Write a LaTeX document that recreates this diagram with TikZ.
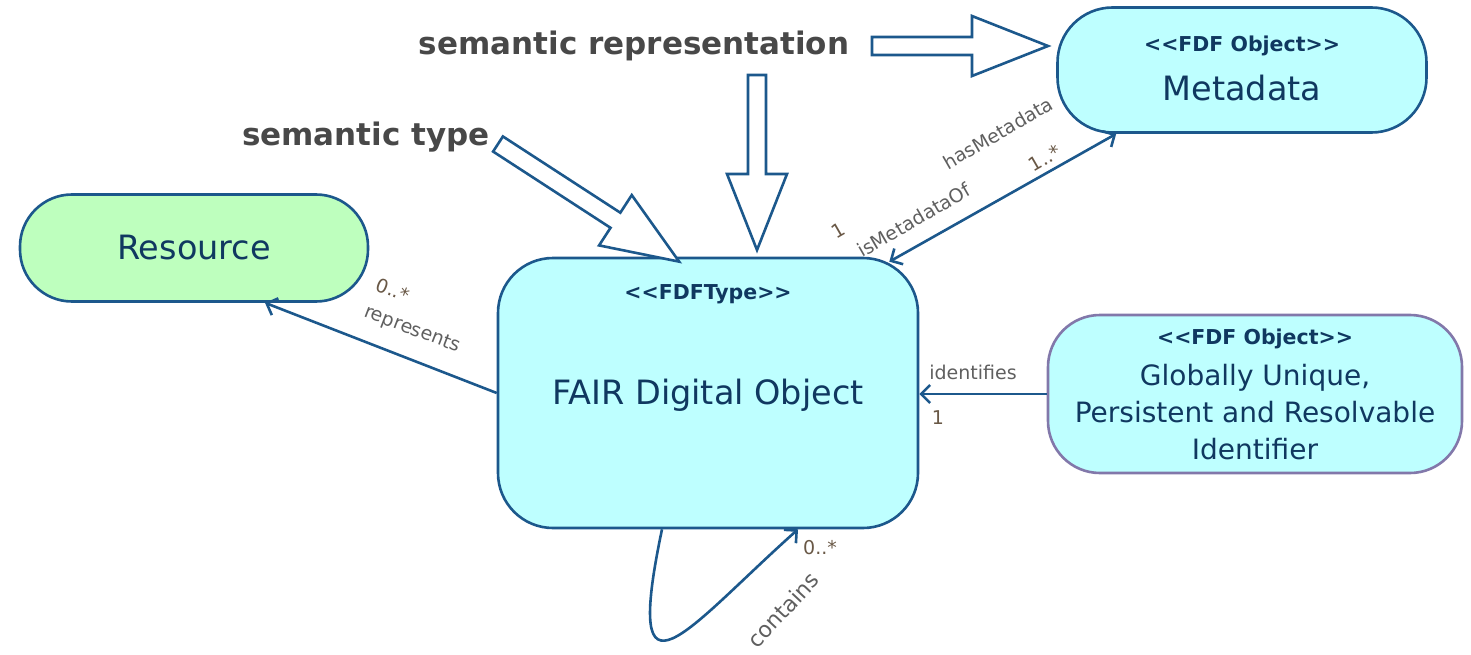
\documentclass[tikz,border=0pt]{standalone}
\usepackage{fontspec}
\setmainfont{DejaVu Sans}
\usetikzlibrary{arrows.meta}

\definecolor{umlblue}{RGB}{28,88,140}
\definecolor{umltext}{RGB}{16,56,96}
\definecolor{fdocyan}{RGB}{190,255,255}
\definecolor{resgreen}{RGB}{190,255,190}
\definecolor{pidframe}{RGB}{130,120,170}
\definecolor{lblgray}{RGB}{95,95,95}
\definecolor{multbrown}{RGB}{105,88,70}
\definecolor{captgray}{RGB}{72,72,72}

\tikzset{
  classbox/.style={draw=umlblue, line width=2.6pt, fill=fdocyan, text=umltext, inner sep=0pt},
  classname/.style={font=\fontsize{33.5}{40}\selectfont, text=umltext, align=center},
  stereo/.style={font=\bfseries\fontsize{20.5}{25}\selectfont, text=umltext},
  assoc/.style={draw=umlblue, line width=2.6pt, -{Straight Barb[length=9pt,width=18pt]}},
  assocboth/.style={assoc, {Straight Barb[length=9pt,width=18pt]}-{Straight Barb[length=9pt,width=18pt]}},
  lbl/.style={font=\fontsize{19}{22}\selectfont, text=lblgray, inner sep=0pt},
  mult/.style={lbl, text=multbrown},
  caption/.style={font=\bfseries\fontsize{31}{38}\selectfont, text=captgray},
  bigarrow/.pic={\draw[draw=umlblue, line width=2.6pt, fill=white, line join=miter]
    (0,-9) -- (#1-76,-9) -- (#1-76,-30) -- (#1,0) -- (#1-76,30) -- (#1-76,9) -- (0,9) -- cycle;}
}

\begin{document}
\begin{tikzpicture}[x=1pt, y=-1pt]
  \useasboundingbox (0,0) rectangle (1471,655);

  % classes
  \node[classbox, fill=resgreen, minimum width=348pt, minimum height=107pt, rounded corners=52pt] (res) at (194,248) {};
  \node[classname] (resname) at (res.center) {Resource};

  \node[classbox, minimum width=420pt, minimum height=270pt, rounded corners=55pt] (fdo) at (708,393) {};
  \node[stereo] (fdotype) at ([yshift=-38pt]fdo.north) {<{}<FDFType>{}>};
  \node[classname] (fdoname) at ([yshift=-2pt]fdo.center) {FAIR Digital Object};

  \node[classbox, minimum width=369pt, minimum height=125pt, rounded corners=55pt] (meta) at (1242,70) {};
  \node[stereo] (metatype) at ([yshift=-40pt]meta.north) {<{}<FDF Object>{}>};
  \node[classname] (metaname) at ([yshift=-18pt]meta.center) {Metadata};

  \node[classbox, draw=pidframe, minimum width=414pt, minimum height=158pt, rounded corners=52pt] (pid) at (1255,394) {};
  \node[stereo] (pidtype) at ([yshift=-25pt]pid.north) {<{}<FDF Object>{}>};
  \node[classname, font=\fontsize{28}{37}\selectfont] (pidname) at ([yshift=-18pt]pid.center)
    {Globally Unique,\\Persistent and Resolvable\\Identifier};

  % captions with block arrows
  \node[caption] (caprep) at (634,46) {semantic representation};
  \node[caption] (captype) at (366,137) {semantic type};
  \pic at (872,46) {bigarrow=176};
  \pic[rotate=-90] at (757,75) {bigarrow=175};
  \pic[rotate=-33] at (498,144) {bigarrow=216};

  % associations
  \draw[assoc] (fdo.west) -- ([xshift=71pt]res.south);
  \node[mult, rotate=-21] (lrepm) at (393,290) {0..*};
  \node[lbl, rotate=-21] (lrep) at (412,330) {represents};

  \draw[assocboth] ([xshift=-30pt,yshift=-5pt]fdo.north east) -- ([xshift=60pt]meta.south west);
  \node[lbl, rotate=30] (lhas) at (998,133) {hasMetadata};
  \node[mult, rotate=30] (lhasm) at (1045,158) {1..*};
  \node[lbl, rotate=30] (lisof) at (914,220) {isMetadataOf};
  \node[mult, rotate=30] (lisofm) at (838,230) {1};

  \draw[assoc] (pid.west) -- (pid.west -| fdo.east);
  \node[lbl] (lid) at (973,372) {identifies};
  \node[mult] (lidm) at (938,418) {1};

  \draw[assoc] ([xshift=-46pt]fdo.south) .. controls +(-40,190) and +(-112,100) .. ([xshift=90pt]fdo.south);
  \node[lbl, rotate=47, font=\fontsize{22}{26}\selectfont] (lcon) at (783,610) {contains};
  \node[mult] (lconm) at (820,548) {0..*};
\end{tikzpicture}
\end{document}
